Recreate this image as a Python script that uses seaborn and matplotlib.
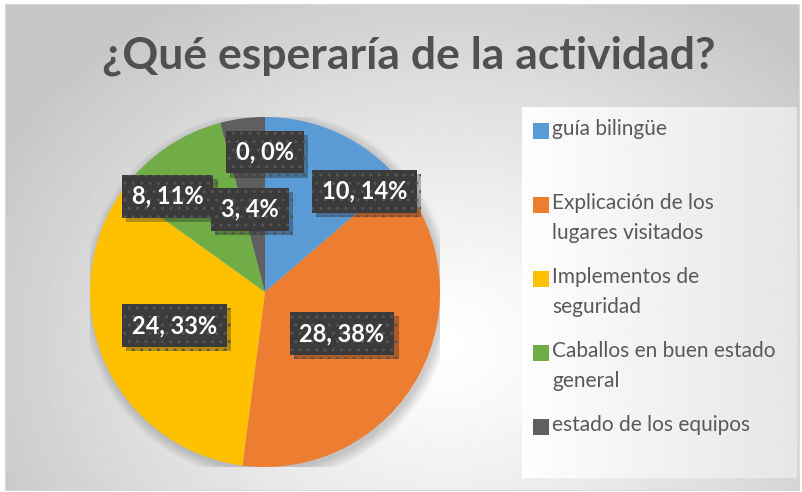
import matplotlib.pyplot as plt
import matplotlib.patheffects as pe
import numpy as np
import seaborn as sns
from matplotlib.patches import Circle

# data
categories = ["guía bilingüe", "Explicación de los\nlugares visitados",
              "Implementos de\nseguridad", "Caballos en buen estado\ngeneral",
              "estado de los equipos", ""]
values = [10, 28, 24, 8, 3, 0]
percents = [14, 38, 33, 11, 4, 0]
colors = ["#5B9BD5", "#ED7D31", "#FFC000", "#70AD47", "#5F5F5F", "#5F5F5F"]
title = "¿Qué esperaría de la actividad?"

# label placement (best-fit style offsets from wedge middle)
label_dist = [0.81, 0.50, 0.55, 0.78, 0.48, 0.80]
label_dang = [-20, 0, -3, 11, 3, 0]

sns.set_theme(style="white")
plt.rcParams["font.family"] = ["Lato", "DejaVu Sans"]

W, H = 803, 492
fig = plt.figure(figsize=(W / 100, H / 100), dpi=100)
fig.patch.set_facecolor("white")


def px_box(x0, y0, x1, y1):
    return [x0 / W, 1 - y1 / H, (x1 - x0) / W, (y1 - y0) / H]


# chart area background: soft radial gradient
bg = fig.add_axes(px_box(5, 4, 799, 490))
yy, xx = np.mgrid[0:486, 0:794]
d = np.hypot((xx - 440) / 500, (yy - 340) / 400)
shade = np.clip(1.0 - 0.22 * d ** 1.2, 0.78, 1.0)
bg.imshow(shade, cmap="gray", vmin=0, vmax=1, aspect="auto", interpolation="bilinear")
bg.set_xticks([])
bg.set_yticks([])
for s in bg.spines.values():
    s.set_color("#d9d9d9")
    s.set_linewidth(0.8)

fig.text(409 / W, 1 - 56 / H, title, ha="center", va="center",
         fontsize=32, fontweight="bold", color="#505050")

# legend panel
lg = fig.add_axes(px_box(522, 107, 797, 478))
gx = np.linspace(0.995, 0.9, 275)[None, :].repeat(10, axis=0)
lg.imshow(gx, cmap="gray", vmin=0, vmax=1, aspect="auto",
          extent=(0, 275, 371, 0), interpolation="bilinear")
lg.set_xlim(0, 275)
lg.set_ylim(371, 0)
lg.axis("off")
entry_y = np.linspace(24, 320, 5)
for name, col, y in zip(categories[:5], colors[:5], entry_y):
    lg.scatter([19], [y], marker="s", s=120, color=col, linewidths=0)
    lg.text(30, y - 12, name, ha="left", va="top", fontsize=15,
            color="#595959", linespacing=1.6)

# pie
ax = fig.add_axes(px_box(90, 117, 440, 467))
for k in range(8):
    ax.add_patch(Circle((0.015, -0.02), 1.0 + 0.008 * k, color="black",
                        alpha=0.025, lw=0, zorder=0))
wedges, _ = ax.pie(values, colors=colors, startangle=90, counterclock=False,
                   radius=1, wedgeprops=dict(linewidth=0, zorder=1))
ax.set_xlim(-1, 1)
ax.set_ylim(-1, 1)
ax.set_aspect("equal")

for w, v, p, r, da in zip(wedges, values, percents, label_dist, label_dang):
    ang = np.deg2rad((w.theta1 + w.theta2) / 2 + da)
    x, y = r * np.cos(ang), r * np.sin(ang)
    t = ax.text(x, y, f"{v}, {p}%", ha="center", va="center", fontsize=17,
                fontweight="bold", color="white", zorder=5,
                bbox=dict(boxstyle="square,pad=0.42", fc="#3b3b3b", ec="#555555",
                          hatch="..", lw=0))
    t.get_bbox_patch().set_path_effects(
        [pe.SimplePatchShadow(offset=(3, -3), alpha=0.3), pe.Normal()])

fig.savefig("out.png", dpi=100)
